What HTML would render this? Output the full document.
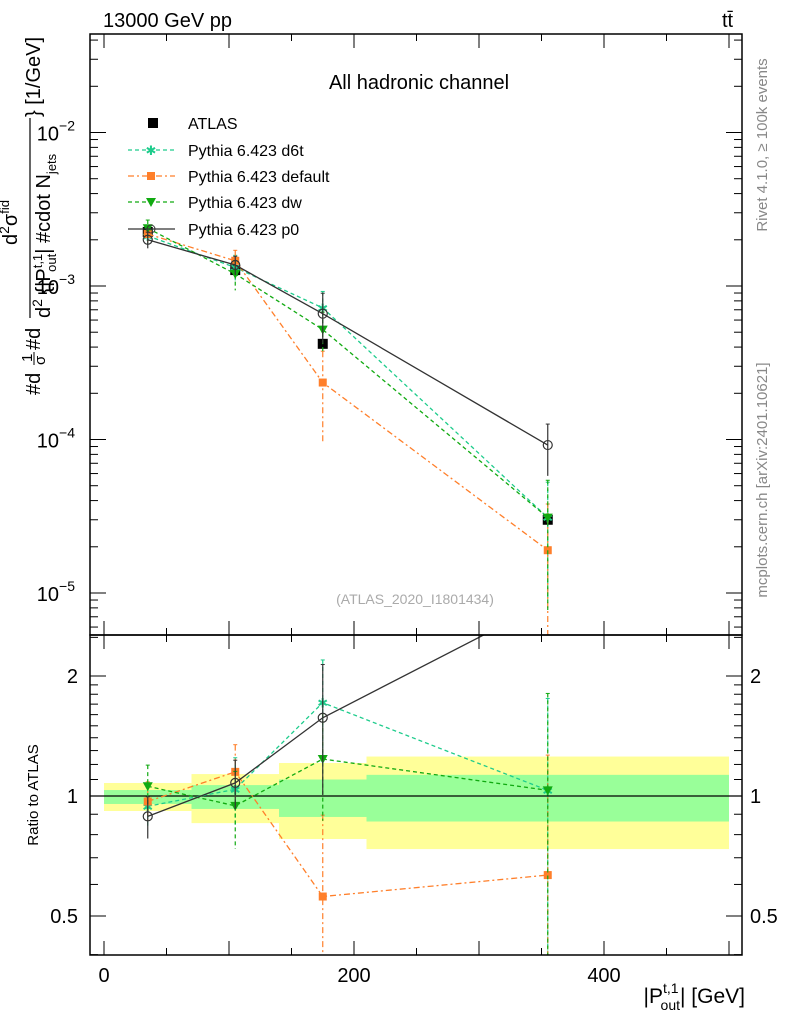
<!DOCTYPE html>
<html><head><meta charset="utf-8"><style>
body{margin:0;background:#fff;overflow:hidden}
svg{display:block;font-family:"Liberation Sans",sans-serif}
</style></head><body>
<svg id="c" width="786" height="1024" viewBox="0 0 786 1024">
<text x="103" y="27" font-size="20">13000 GeV pp</text>
<text x="722" y="27" font-size="20">tt̄</text>
<text x="419" y="89" font-size="20" text-anchor="middle">All hadronic channel</text>
<text x="415" y="604" font-size="14" fill="#aaa" text-anchor="middle">(ATLAS_2020_I1801434)</text>
<text transform="translate(767,145) rotate(-90)" font-size="15" fill="#888" text-anchor="middle">Rivet 4.1.0, ≥ 100k events</text>
<text transform="translate(767,480) rotate(-90)" font-size="15" fill="#888" text-anchor="middle">mcplots.cern.ch [arXiv:2401.10621]</text>
<g font-size="20">
<text transform="translate(40,395) rotate(-90)">#d</text>
<text transform="translate(32,362) rotate(-90)" font-size="15">1</text>
<line x1="34" y1="365" x2="34" y2="352" stroke="#000" stroke-width="1"/>
<text transform="translate(45,365) rotate(-90)" font-size="15">σ</text>
<text transform="translate(40,350) rotate(-90)">#d</text>
<line x1="30" y1="318" x2="30" y2="118" stroke="#000" stroke-width="1.2"/>
<text transform="translate(17,245) rotate(-90)">d<tspan font-size="14" dy="-8">2</tspan><tspan dy="8">σ</tspan><tspan font-size="13" dy="-8">fid</tspan></text>
<text transform="translate(50,318) rotate(-90)">d<tspan font-size="14" dy="-8">2</tspan><tspan dy="8"> {|P</tspan><tspan font-size="13" dy="-8">t,1</tspan><tspan font-size="13" dy="14" dx="-18">out</tspan><tspan dy="-6">| #cdot N</tspan><tspan font-size="13" dy="6">jets</tspan></text>
<text transform="translate(40,117) rotate(-90)">} [1/GeV]</text>
</g>
<text transform="translate(38,795) rotate(-90)" font-size="15" text-anchor="middle">Ratio to ATLAS</text>
<text x="745" y="1003" font-size="21" text-anchor="end">|P<tspan font-size="14" dy="-10">t,1</tspan><tspan font-size="14" dy="17" dx="-18">out</tspan><tspan dy="-7">| [GeV]</tspan></text>
<g id="bands"></g><g id="plot"></g><g id="axes"></g>
<g font-size="16">
<rect x="148" y="118" width="10" height="10" fill="#000"/>
<text x="188" y="129">ATLAS</text>
<line x1="128" x2="175" y1="150" y2="150" stroke="#1ecc8c" stroke-dasharray="4,3" stroke-width="1.3"/><text x="151" y="155" font-size="13" fill="#1ecc8c" text-anchor="middle">✱</text>
<text x="188" y="156">Pythia 6.423 d6t</text>
<line x1="128" x2="175" y1="176" y2="176" stroke="#ff7f2a" stroke-dasharray="6,3,2,3" stroke-width="1.3"/><rect x="147" y="172" width="8" height="8" fill="#ff7f2a"/>
<text x="188" y="182">Pythia 6.423 default</text>
<line x1="128" x2="175" y1="202" y2="202" stroke="#11aa11" stroke-dasharray="4,3" stroke-width="1.3"/><path d="M146,198 L156,198 L151,207Z" fill="#11aa11"/>
<text x="188" y="208">Pythia 6.423 dw</text>
<line x1="128" x2="175" y1="229" y2="229" stroke="#333" stroke-width="1.3"/><circle cx="151" cy="229" r="4" fill="none" stroke="#333"/>
<text x="188" y="235">Pythia 6.423 p0</text>
</g>
</svg>
<script>
const xCenters=[35,105,175,355];
const binEdges=[0,70,140,210,500];
const atlas=[2.25e-3,1.27e-3,4.2e-4,3.0e-5];
const statErrUp=[1.035,1.065,1.10,1.13];
const statErrDn=[0.955,0.928,0.886,0.863];
const totErrUp=[1.078,1.135,1.21,1.256];
const totErrDn=[0.917,0.855,0.78,0.736];
const d6t=[2.12e-3,1.32e-3,7.2e-4,3.1e-5];
const d6tErr=[0.12,0.2,0.28,0.7];
const dflt=[2.18e-3,1.46e-3,2.35e-4,1.9e-5];
const dfltErr=[0.12,0.17,0.6,1.0];
const dw=[2.38e-3,1.2e-3,5.2e-4,3.1e-5];
const dwErr=[0.13,0.22,0.3,0.75];
const p0=[2.0e-3,1.37e-3,6.6e-4,9.2e-5];
const p0Err=[0.12,0.14,0.36,0.37];
const xTicks=[0,200,400];
const yDecades=[-2,-3,-4,-5];
const rTicks=[2,1,0.5];

const NS="http://www.w3.org/2000/svg";
const L=90,R=742,T=34,M=635,B=955;
const X=v=>104+(v)*1.25;
const Y=v=>286-(Math.log10(v)+3)*153.5;
const RY=v=>796-Math.log2(v)*120;
function el(p,t,a){const e=document.createElementNS(NS,t);for(const k in a)e.setAttribute(k,a[k]);p.appendChild(e);return e;}
const bands=document.getElementById('bands'),plot=document.getElementById('plot'),axes=document.getElementById('axes');
const defs=el(document.getElementById('c'),'defs',{});
const c1=el(defs,'clipPath',{id:'cm'});el(c1,'rect',{x:L,y:T,width:R-L,height:M-T});
const c2=el(defs,'clipPath',{id:'cr'});el(c2,'rect',{x:L,y:M,width:R-L,height:B-M});
for(let i=0;i<4;i++){
 const x0=X(binEdges[i]),x1=X(binEdges[i+1]);
 const y=el(bands,'rect',{x:x0,y:RY(totErrUp[i]),width:x1-x0,height:RY(totErrDn[i])-RY(totErrUp[i]),fill:'#ffff99'});
 
 
 const g=el(bands,'rect',{x:x0,y:RY(statErrUp[i]),width:x1-x0,height:RY(statErrDn[i])-RY(statErrUp[i]),fill:'#99ff99'});
 
 
}
el(plot,'line',{x1:L,x2:R,y1:RY(1),y2:RY(1),stroke:'#000','stroke-width':1.3});
const gm=el(plot,'g',{'clip-path':'url(#cm)'}),gr=el(plot,'g',{'clip-path':'url(#cr)'});
const series=[
 {n:'d6t',v:d6t,e:d6tErr,c:'#1ecc8c',d:'4,3',m:'star'},
 {n:'default',v:dflt,e:dfltErr,c:'#ff7f2a',d:'6,3,2,3',m:'sq'},
 {n:'dw',v:dw,e:dwErr,c:'#11aa11',d:'4,3',m:'tri'},
 {n:'p0',v:p0,e:p0Err,c:'#333',d:'',m:'circ'}];
function marker(g,m,x,y,c){
 if(m=='sq')el(g,'rect',{x:x-4,y:y-4,width:8,height:8,fill:c});
 else if(m=='tri')el(g,'path',{d:`M${x-5},${y-4}L${x+5},${y-4}L${x},${y+5}Z`,fill:c});
 else if(m=='circ')el(g,'circle',{cx:x,cy:y,r:4.5,fill:'none',stroke:c,'stroke-width':1.2});
 else{const t=el(g,'text',{x:x,y:y+5,'font-size':13,fill:c,'text-anchor':'middle'});t.textContent='✱';}
}
atlas.forEach((v,i)=>{
 const r=el(gm,'rect',{x:X(xCenters[i])-5,y:Y(v)-5,width:10,height:10,fill:'#000'});
 
 
});
series.forEach(s=>{
 [[gm,(v,i)=>Y(v)],[gr,(v,i)=>RY(v/atlas[i])]].forEach(([g,f],k)=>{
  const pts=s.v.map((v,i)=>X(xCenters[i])+','+f(v,i)).join(' ');
  const pl=el(g,'polyline',{points:pts,fill:'none',stroke:s.c,'stroke-width':1.3,'stroke-dasharray':s.d});
  
  
  s.v.forEach((v,i)=>{
   const x=X(xCenters[i]);const yc=f(v,i);
   if(k && yc<M) return;
   const hi=v*(1+s.e[i]),lo=Math.max(v*(1-s.e[i]),1e-9);
   const yh=k?RY(hi/atlas[i]):Y(hi),yl=k?RY(lo/atlas[i]):Y(lo);
   el(g,'line',{x1:x,x2:x,y1:yh,y2:yl,stroke:s.c,'stroke-width':1.2,'stroke-dasharray':s.d});
   el(g,'line',{x1:x-2,x2:x+2,y1:yh,y2:yh,stroke:s.c});
   marker(g,s.m,x,yc,s.c);
  });
 });
});
el(axes,'rect',{x:L,y:T,width:R-L,height:M-T,fill:'none',stroke:'#000','stroke-width':1.5});
el(axes,'rect',{x:L,y:M,width:R-L,height:B-M,fill:'none',stroke:'#000','stroke-width':1.5});
for(let v=0;v<=500;v+=50){const big=v%100==0,len=big?14:7;
 [[T,1],[M,-1],[M,1],[B,-1]].forEach(([y,d])=>el(axes,'line',{x1:X(v),x2:X(v),y1:y,y2:y+d*len,stroke:'#000'}));}
xTicks.forEach(v=>{const t=el(axes,'text',{x:X(v),y:982,'font-size':20,'text-anchor':'middle'});t.textContent=v;
 
 });
for(let d=-6;d<=-1;d++)for(let k=1;k<10;k++){const y=Y(k*Math.pow(10,d));if(y<T||y>M)continue;const len=k==1?16:8;
 el(axes,'line',{x1:L,x2:L+len,y1:y,y2:y,stroke:'#000'});el(axes,'line',{x1:R,x2:R-len,y1:y,y2:y,stroke:'#000'});}
yDecades.forEach(d=>{const t=el(axes,'text',{x:75,y:Y(Math.pow(10,d))+8,'font-size':20,'text-anchor':'end'});
 t.innerHTML='10<tspan font-size="14" dy="-10">−'+(-d)+'</tspan>';
 
 });
[0.4,0.5,0.6,0.7,0.8,0.9,1,1.1,1.2,1.3,1.4,1.5,1.6,1.7,1.8,1.9,2,2.5].forEach(v=>{const y=RY(v);if(y<M||y>B)return;const big=[0.5,1,2].includes(v),len=big?16:8;
 el(axes,'line',{x1:L,x2:L+len,y1:y,y2:y,stroke:'#000'});el(axes,'line',{x1:R,x2:R-len,y1:y,y2:y,stroke:'#000'});});
rTicks.forEach(v=>{[[78,'end'],[750,'start']].forEach(([x,a])=>{const t=el(axes,'text',{x:x,y:RY(v)+7,'font-size':20,'text-anchor':a});t.textContent=v;
 
 });});
</script>
</body></html>
